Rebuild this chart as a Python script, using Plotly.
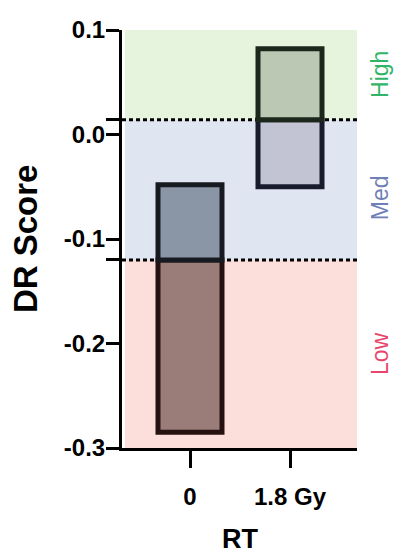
import plotly.graph_objects as go

# ---- data ----
categories = ["0", "1.8 Gy"]
bar_min = [-0.285, -0.050]
bar_max = [-0.048, 0.082]
thr_low_med = -0.12
thr_med_high = 0.014
band_names = ["Low", "Med", "High"]
y_ticks = [0.1, 0.014, 0.0, -0.1, -0.12, -0.2, -0.3]
y_ticktext = ["0.1", "", "0.0", "-0.1", "", "-0.2", "-0.3"]

# ---- styles ----
band_fill = {"Low": "#fcdedb", "Med": "#e0e5f2", "High": "#e6f4de"}
band_text = {"Low": "#e8456c", "Med": "#6f80b6", "High": "#2fb468"}
seg_fill = {(0, "Low"): "#9a7c78", (0, "Med"): "#8a95a5",
            (1, "Med"): "#c2c4d3", (1, "High"): "#bbc9b4"}
seg_line = {(0, "Low"): "#261010", (0, "Med"): "#181a22",
            (1, "Med"): "#171b2c", (1, "High"): "#1a271a"}

y_lo, y_hi = -0.3, 0.1
bounds = {"Low": (y_lo, thr_low_med), "Med": (thr_low_med, thr_med_high),
          "High": (thr_med_high, y_hi)}

fig = go.Figure()

# background bands
for b in band_names:
    lo, hi = bounds[b]
    fig.add_shape(type="rect", xref="paper", yref="y", x0=0.012, x1=1.0,
                  y0=lo, y1=hi, fillcolor=band_fill[b], line_width=0,
                  layer="below")

# dotted threshold lines
for t in [thr_low_med, thr_med_high]:
    fig.add_shape(type="line", xref="paper", yref="y", x0=0.0, x1=1.0,
                  y0=t, y1=t, line=dict(color="black", width=3, dash="4px,3px"),
                  layer="below")

# floating bars split into band segments
for i, cat in enumerate(categories):
    for b in band_names:
        lo, hi = bounds[b]
        s0 = max(lo, bar_min[i])
        s1 = min(hi, bar_max[i])
        if s1 <= s0:
            continue
        fig.add_trace(go.Bar(
            x=[i], y=[s1 - s0], base=[s0], width=0.64,
            marker=dict(color=seg_fill[(i, b)],
                        line=dict(color=seg_line[(i, b)], width=5)),
            showlegend=False, hoverinfo="skip"))

# band labels on right
for b in band_names:
    lo, hi = bounds[b]
    yc = (lo + hi) / 2 - (0.008 if b == "Med" else 0)
    fig.add_annotation(xref="paper", yref="y", x=1.098, y=yc, text=b,
                       textangle=-90, showarrow=False,
                       font=dict(family="Liberation Sans", size=23,
                                 color=band_text[b]),
                       xanchor="center", yanchor="middle")

# axis titles
fig.add_annotation(xref="paper", yref="paper", x=-0.413, y=0.502,
                   text="DR Score", textangle=-90, showarrow=False,
                   font=dict(family="Liberation Sans", size=33, color="black",
                             weight="bold"),
                   xanchor="center", yanchor="middle")
fig.add_annotation(xref="paper", yref="paper", x=0.502, y=-0.218,
                   text="RT", showarrow=False,
                   font=dict(family="Liberation Sans", size=27, color="black",
                             weight="bold"),
                   xanchor="center", yanchor="middle")

tickfont = dict(family="Liberation Sans", size=24, color="black", weight="bold")

fig.update_layout(
    width=400, height=558,
    margin=dict(l=122, r=43, t=30, b=110),
    paper_bgcolor="white", plot_bgcolor="white",
    barmode="overlay",
    xaxis=dict(range=[-0.68, 1.67], tickvals=[0, 1], ticktext=categories,
               showline=True, linecolor="black", linewidth=3,
               ticks="outside", ticklen=17, tickwidth=3, tickcolor="black",
               showgrid=False, zeroline=False, tickfont=tickfont,
               ticklabelstandoff=8, fixedrange=True),
    yaxis=dict(range=[y_lo, y_hi], tickvals=y_ticks, ticktext=y_ticktext,
               showline=True, linecolor="black", linewidth=3,
               ticks="outside", ticklen=13, tickwidth=3, tickcolor="black",
               showgrid=False, zeroline=False, tickfont=tickfont,
               ticklabelstandoff=-4, fixedrange=True),
)

fig.write_html("out.html")
